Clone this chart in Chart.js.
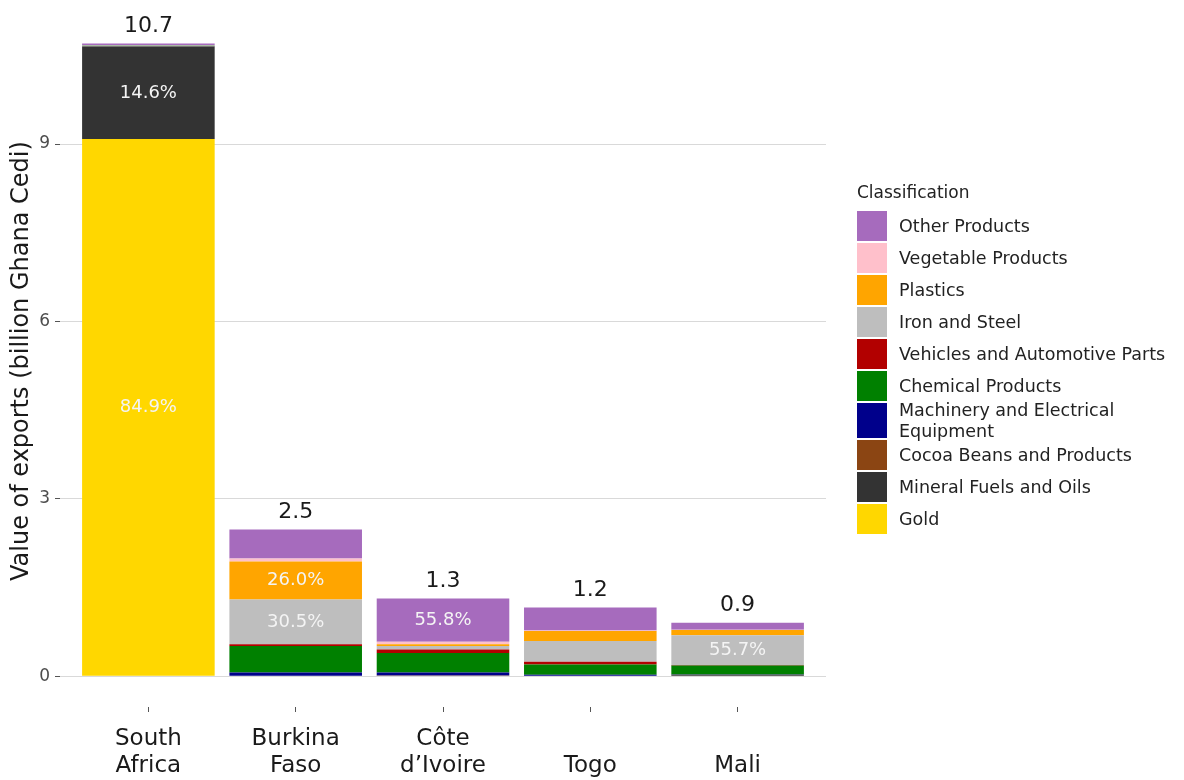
<!DOCTYPE html>
<html>
<head>
<meta charset="utf-8">
<script src="https://cdn.jsdelivr.net/npm/chart.js@4.4.0/dist/chart.umd.min.js"></script>
<style>
  body { margin: 0; background: #fff; font-family: "DejaVu Sans", sans-serif; }
  #wrap { position: relative; width: 1184px; height: 780px; }
  #legend { position: absolute; left: 857px; top: 181px; color: #222; font-size: 17.5px; }
  #legend .title { margin-bottom: 8px; line-height: 22px; font-size: 17px; }
  #legend .row { display: flex; align-items: stretch; margin-bottom: 2px; }
  #legend .box { width: 30px; flex: none; }
  #legend .txt { margin-left: 12px; line-height: 21px; height: 30px; display: flex; align-items: center; white-space: nowrap; }
  #legend .two { height: 35px; }
</style>
</head>
<body>
<div id="wrap">
  <canvas id="chart" width="1184" height="780"></canvas>
  <div id="legend"></div>
</div>
<script>
const categories = ['South Africa', 'Burkina Faso', 'Côte d’Ivoire', 'Togo', 'Mali'];
const tickLabels = [['South', 'Africa'], ['Burkina', 'Faso'], ['Côte', 'd’Ivoire'], ['', 'Togo'], ['', 'Mali']];

// values in billion Ghana Cedi, one per country
const gold      = [9.084, 0,     0,     0,     0];
const mineral   = [1.562, 0,     0,     0,     0.025];
const cocoa     = [0.004, 0,     0.01,  0.005, 0];
const machinery = [0.006, 0.06,  0.05,  0.02,  0.004];
const chemical  = [0.006, 0.45,  0.33,  0.17,  0.15];
const vehicles  = [0.002, 0.03,  0.06,  0.05,  0.008];
const ironSteel = [0.002, 0.756, 0.06,  0.35,  0.503];
const plastics  = [0.002, 0.645, 0.03,  0.17,  0.09];
const vegetable = [0.002, 0.05,  0.04,  0.005, 0.003];
const other     = [0.03,  0.49,  0.732, 0.39,  0.12];

const seriesNames = ['Gold', 'Mineral Fuels and Oils', 'Cocoa Beans and Products', 'Machinery and Electrical Equipment',
  'Chemical Products', 'Vehicles and Automotive Parts', 'Iron and Steel', 'Plastics', 'Vegetable Products', 'Other Products'];
const seriesValues = [gold, mineral, cocoa, machinery, chemical, vehicles, ironSteel, plastics, vegetable, other];
const seriesColors = ['#ffd700', '#333333', '#8b4513', '#00008b', '#008000', '#b20000', '#bebebe', '#ffa500', '#ffc0cb', '#a66bbd'];

// which segments carry a share label
const pctShown = [['Gold', 'Mineral Fuels and Oils'], ['Plastics', 'Iron and Steel'], ['Other Products'], [], ['Iron and Steel']];

const yTicks = [0, 3, 6, 9];

const FONT = '"DejaVu Sans"';

const datasets = seriesNames.map((name, s) => ({
    label: name,
    data: seriesValues[s].map((v, i) => ({ x: i + 1, y: v })),
    backgroundColor: seriesColors[s],
    borderWidth: 0,
    barPercentage: 0.9,
    categoryPercentage: 1
}));

const totals = categories.map((c, i) => seriesValues.reduce((a, arr) => a + arr[i], 0));

const labelPlugin = {
    id: 'labels',
    afterDatasetsDraw(chart) {
        const ctx = chart.ctx;
        ctx.save();
        ctx.textAlign = 'center';
        categories.forEach((c, i) => {
            let top = Infinity, x = 0;
            chart.data.datasets.forEach((ds, s) => {
                const el = chart.getDatasetMeta(s).data[i];
                x = el.x;
                top = Math.min(top, el.y);
                if (pctShown[i].includes(ds.label)) {
                    const pct = (seriesValues[s][i] / totals[i] * 100).toFixed(1) + '%';
                    ctx.font = '18px ' + FONT;
                    ctx.fillStyle = '#f4f4f4';
                    ctx.textBaseline = 'middle';
                    ctx.fillText(pct, el.x, (el.y + el.base) / 2);
                }
            });
            ctx.font = '22px ' + FONT;
            ctx.fillStyle = '#1a1a1a';
            ctx.textBaseline = 'bottom';
            ctx.fillText(totals[i].toFixed(1), x, top - 6);
        });
        ctx.restore();
    }
};

new Chart(document.getElementById('chart'), {
    type: 'bar',
    data: { datasets },
    options: {
        responsive: false,
        animation: false,
        layout: { padding: { top: 6, right: 358, left: 0, bottom: 0 } },
        plugins: { legend: { display: false }, tooltip: { enabled: false } },
        scales: {
            x: {
                type: 'linear',
                stacked: true,
                offset: false,
                min: 0.4,
                max: 5.6,
                afterBuildTicks: (scale) => { scale.ticks = categories.map((c, i) => ({ value: i + 1 })); },
                afterFit: (scale) => { scale.height = 73; },
                border: { display: false },
                grid: { offset: false, drawOnChartArea: false, tickLength: 5, tickColor: '#555', tickWidth: 1 },
                ticks: {
                    callback: (v) => tickLabels[v - 1],
                    font: { family: 'DejaVu Sans', size: 23, lineHeight: 1.18 },
                    color: '#1a1a1a',
                    padding: 13,
                    maxRotation: 0,
                    autoSkip: false
                }
            },
            y: {
                stacked: true,
                min: -0.522,
                max: 11.18,
                afterBuildTicks: (scale) => { scale.ticks = yTicks.map(v => ({ value: v })); },
                afterFit: (scale) => { scale.width = 60; },
                border: { display: false },
                grid: { color: '#d9d9d9', lineWidth: 1, tickLength: 5, tickColor: '#555' },
                ticks: { font: { family: 'DejaVu Sans', size: 17 }, color: '#4d4d4d', padding: 5 },
                title: {
                    display: true,
                    text: 'Value of exports (billion Ghana Cedi)',
                    font: { family: 'DejaVu Sans', size: 24 },
                    color: '#1a1a1a',
                    padding: { top: 7, bottom: 0 }
                }
            }
        }
    },
    plugins: [labelPlugin]
});

// legend, top to bottom in reverse stacking order
const legend = document.getElementById('legend');
legend.innerHTML = '<div class="title">Classification</div>';
for (let s = seriesNames.length - 1; s >= 0; s--) {
    const row = document.createElement('div');
    row.className = 'row';
    let name = seriesNames[s];
    let cls = 'txt';
    if (name === 'Machinery and Electrical Equipment') {
        name = 'Machinery and Electrical<br>Equipment';
        cls = 'txt two';
    }
    row.innerHTML = '<div class="box" style="background:' + seriesColors[s] + '"></div><div class="' + cls + '">' + name + '</div>';
    legend.appendChild(row);
}
</script>
</body>
</html>
